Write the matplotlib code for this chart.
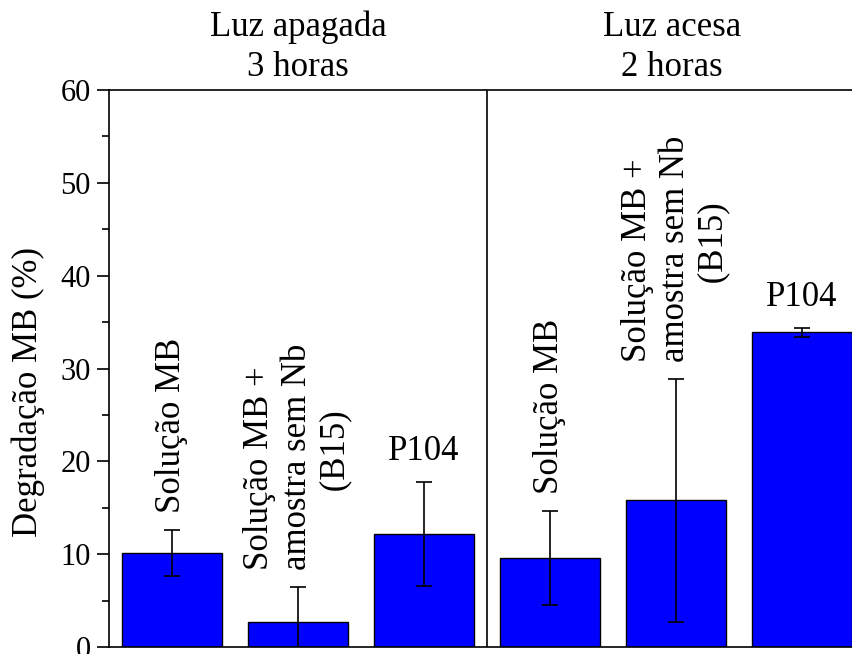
import matplotlib
matplotlib.use("Agg")
import matplotlib.pyplot as plt
import numpy as np

plt.rcParams['font.family'] = ['Liberation Serif', 'DejaVu Serif']

categories = ["Solução MB", "Solução MB +\namostra sem Nb\n         (B15)", "P104",
              "Solução MB", "Solução MB +\namostra sem Nb\n         (B15)", "P104"]
values = [10.1, 2.7, 12.2, 9.6, 15.8, 33.9]
errors = [2.5, 3.8, 5.6, 5.1, 13.1, 0.5]
rotated = [True, True, False, True, True, False]
groups = ["Luz apagada\n3 horas", "Luz acesa\n2 horas"]
yticks = [0, 10, 20, 30, 40, 50, 60]

fig = plt.figure(figsize=(8.53, 6.54), dpi=100)
ax = fig.add_axes([109/853, 7/654, 756/853, 557/654])

x = np.arange(len(values))
ax.bar(x, values, width=0.79, color="#0000FF", edgecolor="black", linewidth=1.0,
       yerr=errors, error_kw=dict(ecolor="black", elinewidth=1.2, capsize=6, capthick=1.2))

ax.set_xlim(-0.5, 5.5)
ax.set_ylim(0, 60)
ax.set_yticks(yticks)
ax.set_yticks(np.arange(5, 60, 10), minor=True)
ax.set_xticks([])
ax.tick_params(axis='y', which='major', length=9, width=1.2, labelsize=22, pad=4)
ax.tick_params(axis='y', which='minor', length=5, width=1.2)
for s in ax.spines.values():
    s.set_linewidth(1.2)
ax.spines['right'].set_visible(False)
ax.axvline(2.5, color="black", linewidth=1.2)

ax.set_ylabel("Degradação MB (%)", fontsize=25)
ax.yaxis.set_label_coords(-0.085, 0.458)

for i in range(len(values)):
    top = values[i] + errors[i]
    if rotated[i]:
        ax.annotate(categories[i], xy=(x[i], top), xytext=(0, 12), textcoords='offset points',
                    rotation=90, ha='center', va='bottom', fontsize=25,
                    linespacing=1.2, multialignment='left')
    else:
        ax.annotate(categories[i], xy=(x[i], top), xytext=(0, 10), textcoords='offset points',
                    ha='center', va='bottom', fontsize=25)

ax.annotate(groups[0], xy=(1.0, 1.0), xycoords=ax.get_xaxis_transform(),
            xytext=(0, 4), textcoords='offset points', ha='center', va='bottom',
            fontsize=25, linespacing=1.3)
ax.annotate(groups[1], xy=(3.97, 1.0), xycoords=ax.get_xaxis_transform(),
            xytext=(0, 4), textcoords='offset points', ha='center', va='bottom',
            fontsize=25, linespacing=1.3)

fig.savefig("out.png", dpi=100)
